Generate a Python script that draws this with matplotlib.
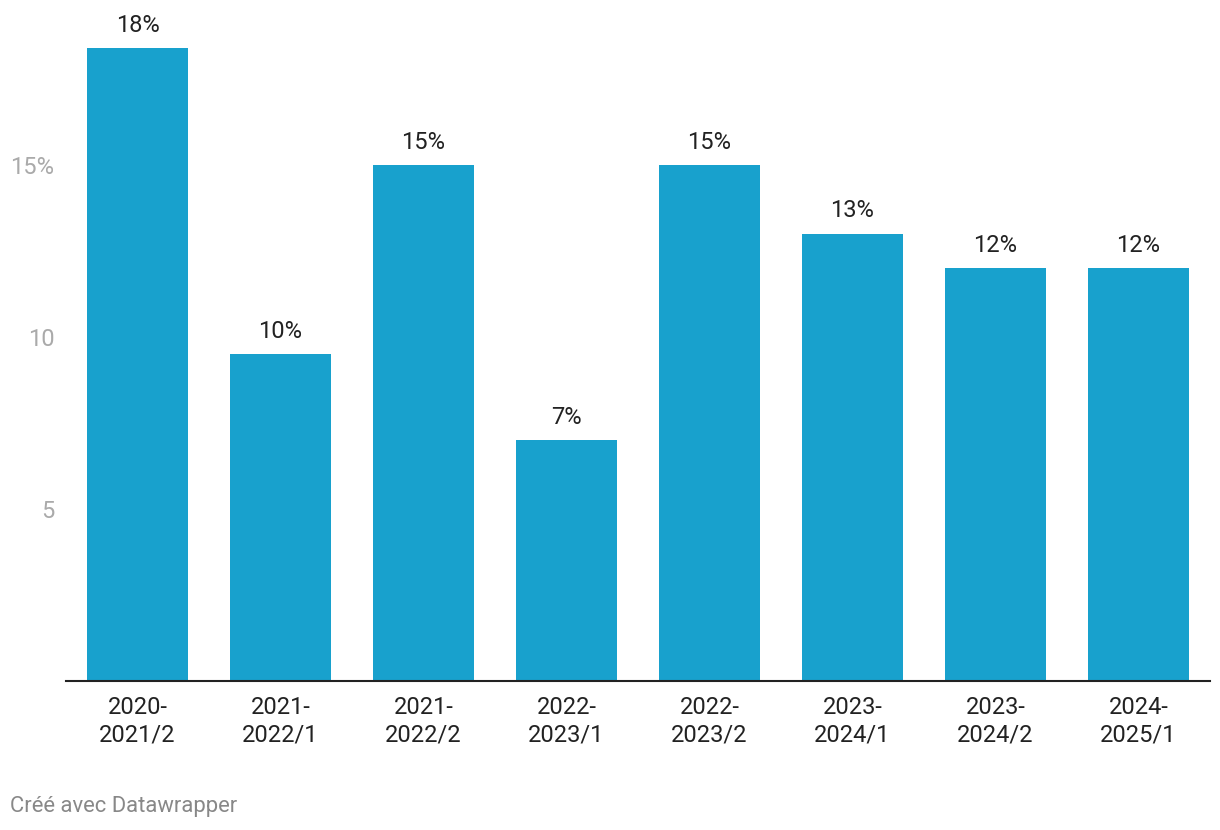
import matplotlib
matplotlib.use("Agg")
import matplotlib.pyplot as plt
import numpy as np

plt.rcParams['font.family'] = ['Roboto', 'DejaVu Sans']

periods = ['2020-\n2021/2', '2021-\n2022/1', '2021-\n2022/2', '2022-\n2023/1',
           '2022-\n2023/2', '2023-\n2024/1', '2023-\n2024/2', '2024-\n2025/1']
values = [18.4, 9.5, 15.0, 7.0, 15.0, 13.0, 12.0, 12.0]
labels = ['18%', '10%', '15%', '7%', '15%', '13%', '12%', '12%']
yticks = [5, 10, 15]
ytick_labels = ['5', '10', '15%']

fig = plt.figure(figsize=(12.2, 8.3), dpi=100)
ax = fig.add_axes([66 / 1220, 1 - 681 / 830, (1210 - 66) / 1220, (681 - 48) / 830])

x = np.arange(len(values))
ax.bar(x, values, width=0.7, color='#18a1cd')
for xi, v, lab in zip(x, values, labels):
    ax.text(xi, v + 0.33, lab, ha='center', va='bottom', fontsize=17, color='#222222')

ax.set_xlim(-0.5, 7.5)
ax.set_ylim(0, 18.4)
ax.set_xticks(x)
ax.set_xticklabels(periods, fontsize=17, color='#222222', linespacing=1.25)
ax.set_yticks(yticks)
ax.set_yticklabels(ytick_labels, fontsize=17, color='#aaaaaa')
ax.tick_params(axis='x', length=0, pad=11)
ax.tick_params(axis='y', length=0, pad=8.5)

for side in ['top', 'right', 'left']:
    ax.spines[side].set_visible(False)
ax.spines['bottom'].set_linewidth(1.5)
ax.spines['bottom'].set_color('#222222')

fig.text(10 / 1220, 1 - 806 / 830, 'Créé avec Datawrapper', fontsize=15.8,
         color='#888888', ha='left', va='center')

fig.savefig('out.png', dpi=100)
